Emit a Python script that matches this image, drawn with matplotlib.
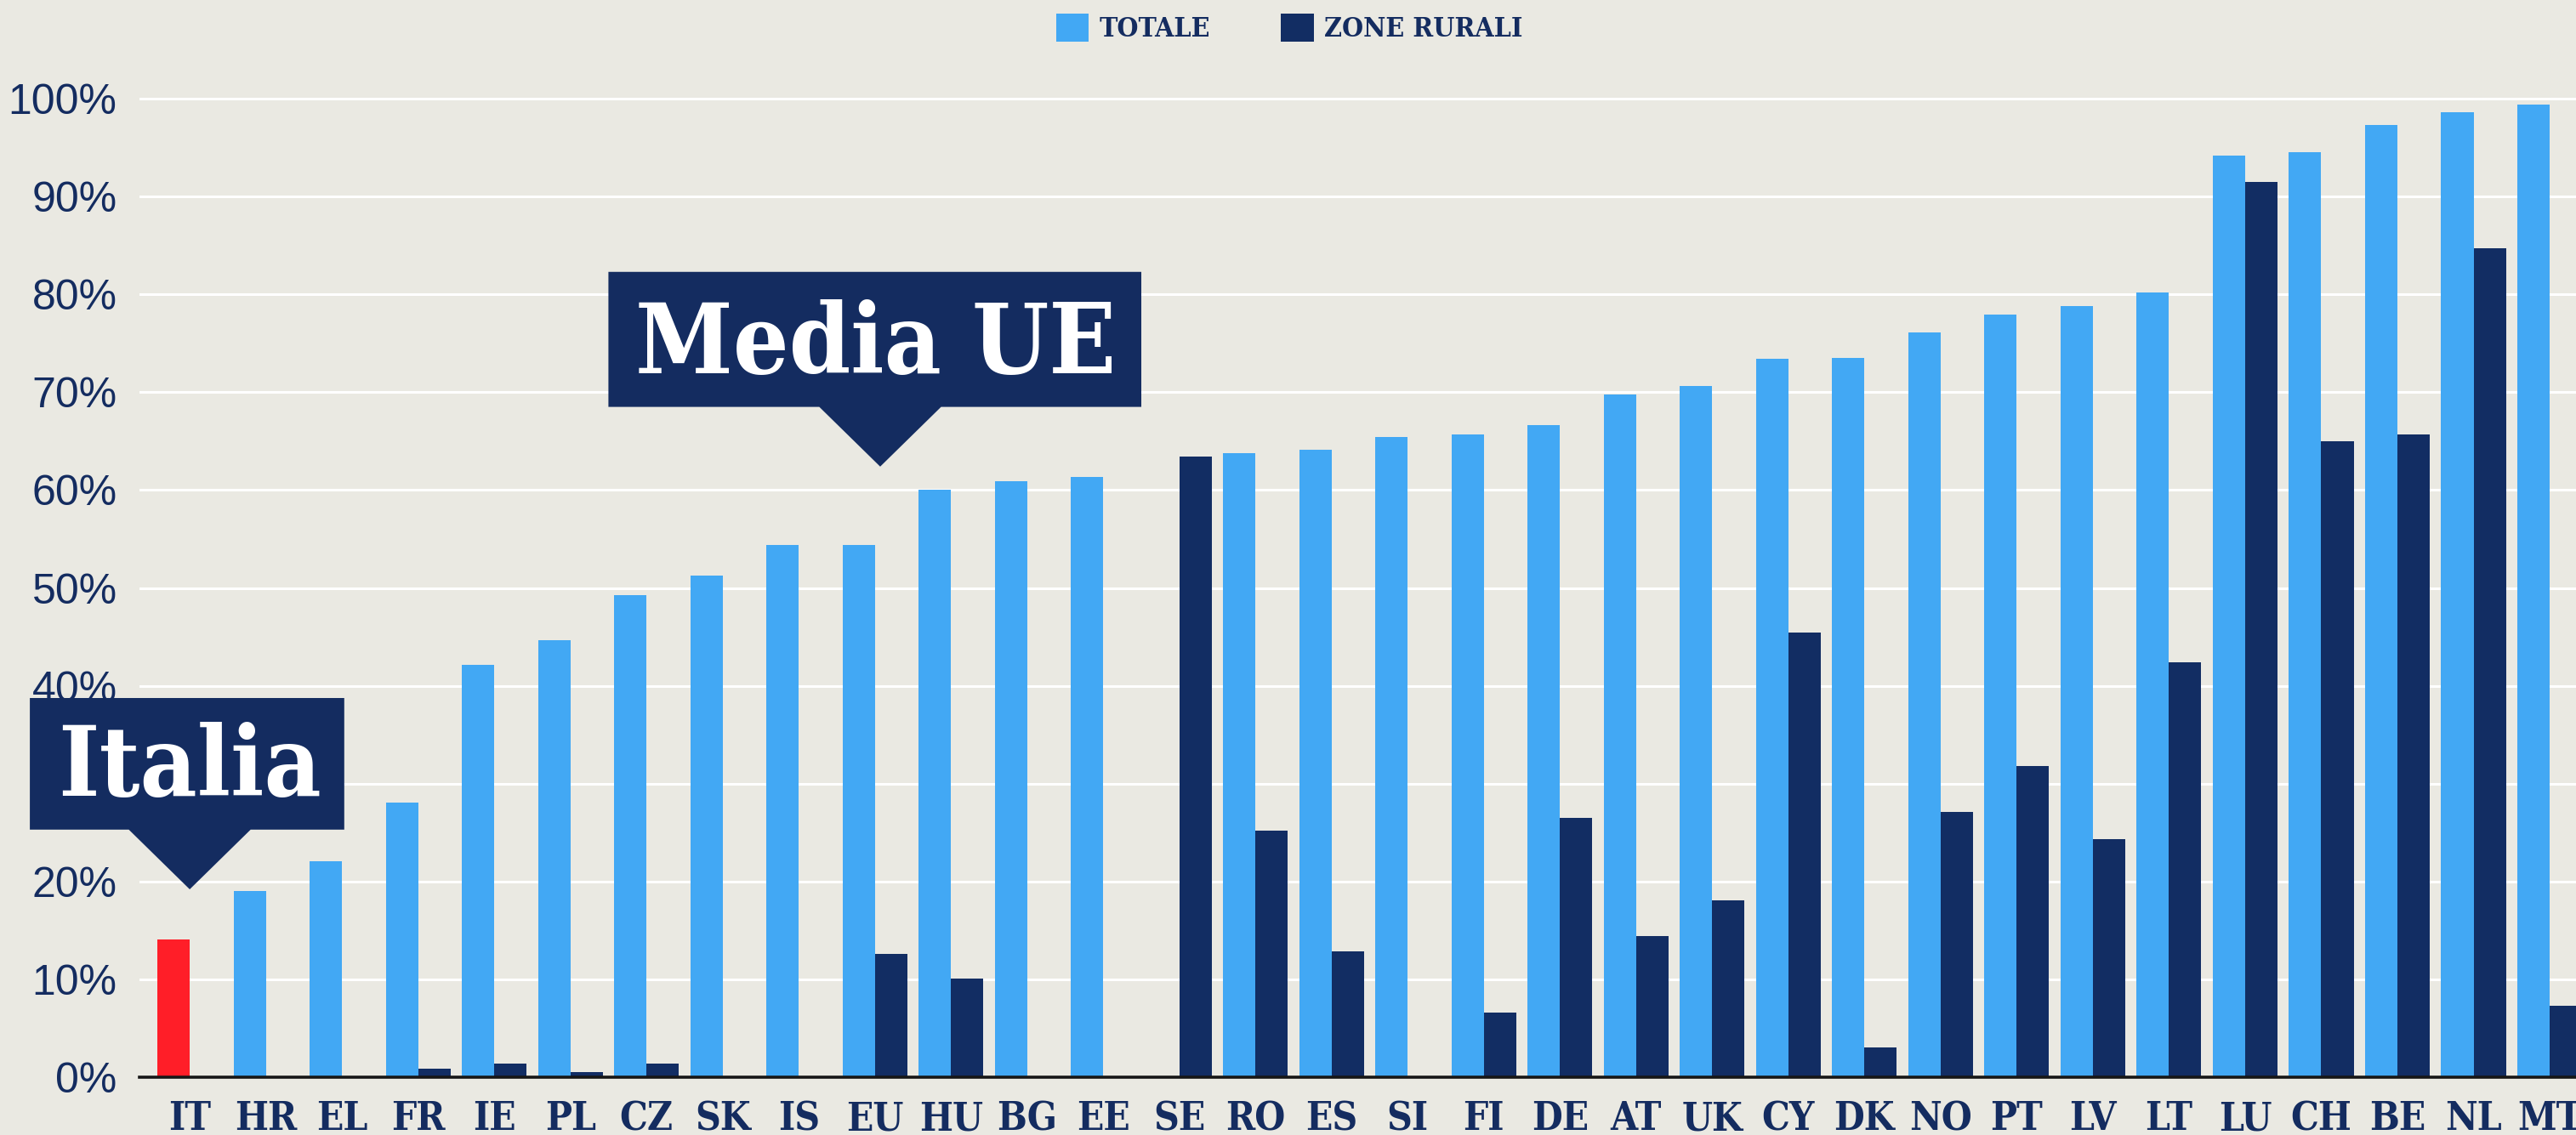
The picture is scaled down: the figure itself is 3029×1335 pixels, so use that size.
import numpy as np
import matplotlib.pyplot as plt
from matplotlib.patches import Polygon, Patch


####DATA
countries = ['IT', 'HR', 'EL', 'FR', 'IE', 'PL', 'CZ', 'SK', 'IS', 'EU', 'HU', 'BG', 'EE', 'SE', 'RO', 'ES',
             'SI', 'FI', 'DE', 'AT', 'UK', 'CY', 'DK', 'NO', 'PT', 'LV', 'LT', 'LU', 'CH', 'BE', 'NL', 'MT']
totale = [14.1, 19.0, 22.1, 28.1, 42.1, 44.7, 49.3, 51.3, 54.4, 54.4, 60.0, 60.9, 61.3, np.nan, 63.8, 64.1,
          65.4, 65.7, 66.6, 69.8, 70.6, 73.4, 73.5, 76.1, 77.9, 78.8, 80.2, 94.2, 94.5, 97.3, 98.6, 99.4]
rurali = [np.nan, np.nan, np.nan, 0.9, 1.4, 0.5, 1.4, np.nan, np.nan, 12.6, 10.1, np.nan, np.nan, 63.4, 25.2, 12.9,
          np.nan, 6.6, 26.5, 14.4, 18.1, 45.4, 3.0, 27.1, 31.8, 24.3, 42.4, 91.5, 65.0, 65.7, 84.7, 7.3]
series_names = ['TOTALE', 'ZONE RURALI']
highlight = 'IT'

# callouts: text, country the arrow points at, height of the arrow tip
callouts = [('Italia', 'IT', 19.2), ('Media UE', 'EU', 62.4)]


####STYLE
bg = '#eae9e2'
light = '#42a8f4'
dark = '#122d63'
red = '#ff1e28'
navy = '#142c60'
slab = dict(family='DejaVu Serif', weight='bold', stretch='condensed')

plt.rcParams['font.family'] = ['Liberation Sans', 'DejaVu Sans']

W, H = 3029, 1335
fig = plt.figure(figsize=(W / 100, H / 100), dpi=100, facecolor=bg)
ax = fig.add_axes([164 / W, 1 - 1267 / H, 1 - 164 / W, (1267 - 60) / H])
ax.set_facecolor(bg)


####PLOTTING
x = np.arange(len(countries))
w = 0.425
tot_colors = [red if c == highlight else light for c in countries]
ax.bar(x - w / 2, totale, width=w, color=tot_colors, zorder=2)
ax.bar(x + w / 2, rurali, width=w, color=dark, zorder=2)

ax.set_xlim(-0.66, len(countries) - 1 + 0.346)
ax.set_ylim(0, 104.87)
ax.set_yticks(range(0, 101, 10))
ax.set_yticklabels([f'{v}%' for v in range(0, 101, 10)])
ax.set_xticks(x)
ax.set_xticklabels(countries, fontsize=33, color=navy, **slab)
ax.tick_params(axis='y', length=0, pad=19, labelsize=36, labelcolor=navy)
ax.tick_params(axis='x', length=0, pad=19)
ax.yaxis.grid(True, color='white', linewidth=2.2)
ax.set_axisbelow(True)
for s in ['top', 'right', 'left']:
    ax.spines[s].set_visible(False)
ax.spines['bottom'].set_color('#161616')
ax.spines['bottom'].set_linewidth(2.6)
ax.spines['bottom'].set_zorder(3)

# speech-bubble callouts
bubble = {'Italia': (-2.10, 2.03, 19.55, 9.56, 0.0),
          'Media UE': (-3.57, 3.43, 19.9, 9.5, -0.06)}
for label, country, tip_y in callouts:
    tx = countries.index(country) + (0.07 if country == 'EU' else 0.0)
    dx0, dx1, top, base, tdx = bubble[label]
    y0 = tip_y + 6.1
    verts = [(tx + dx0, tip_y + top), (tx + dx1, tip_y + top), (tx + dx1, y0), (tx + 0.8, y0),
             (tx, tip_y), (tx - 0.8, y0), (tx + dx0, y0)]
    ax.add_patch(Polygon(verts, closed=True, facecolor=navy, edgecolor='none', zorder=5, clip_on=False))
    ax.text(tx + tdx, tip_y + base, label, color='white', fontsize=83, ha='center', va='baseline',
            zorder=6, **slab)

handles = [Patch(facecolor=light), Patch(facecolor=dark)]
leg = fig.legend(handles, series_names, loc='center', bbox_to_anchor=(0.5006, 0.975), ncol=2,
                 frameon=False, handlelength=1.2, handleheight=1.2, handletextpad=0.4, columnspacing=2.6,
                 prop=dict(size=23, **slab))
for t in leg.get_texts():
    t.set_color(navy)

fig.savefig('out.png', dpi=100, facecolor=bg)
